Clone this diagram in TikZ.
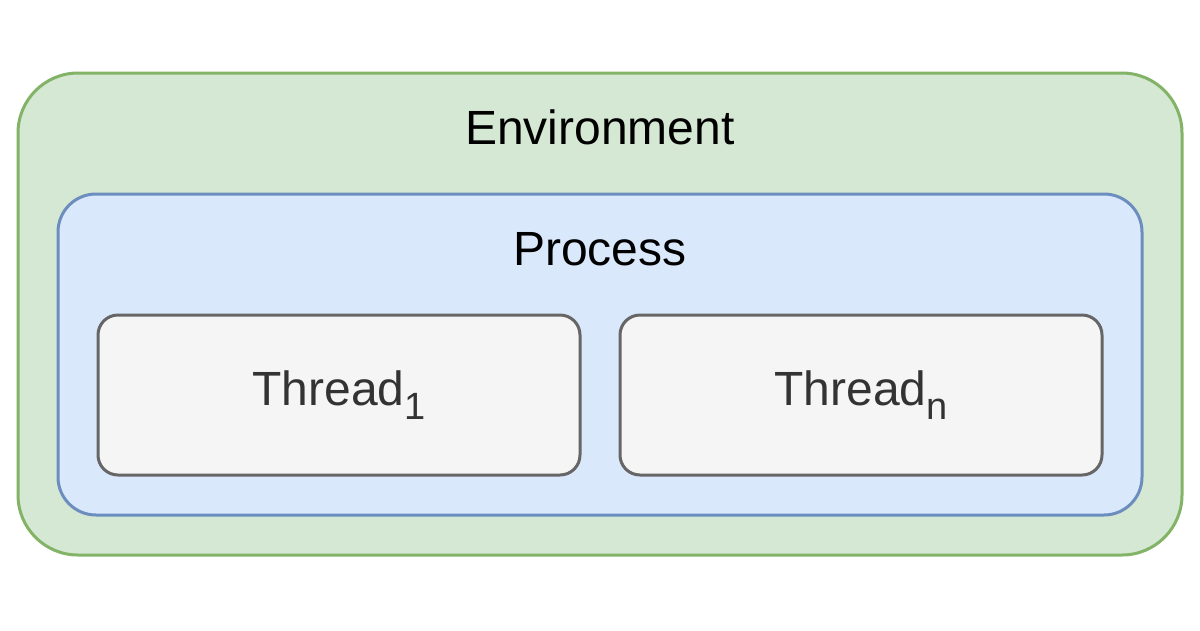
\documentclass[tikz,border=0pt]{standalone}
\usepackage{fontspec}
\setmainfont{Liberation Sans}
\usepackage{tikz}

\definecolor{envfill}{HTML}{D5E8D4}
\definecolor{envline}{HTML}{82B366}
\definecolor{procfill}{HTML}{DAE8FC}
\definecolor{procline}{HTML}{6C8EBF}
\definecolor{thfill}{HTML}{F5F5F5}
\definecolor{thline}{HTML}{666666}
\definecolor{thtext}{HTML}{333333}

\newcommand{\thsub}[1]{\raisebox{-0.3em}{\fontsize{38}{38}\selectfont #1}}

\begin{document}
\begin{tikzpicture}
 [x=1pt, y=-1pt,
  env box/.style={rounded corners=60pt, fill=envfill, draw=envline, line width=3pt, minimum width=1164pt, minimum height=482pt, inner sep=0pt},
  proc box/.style={rounded corners=38pt, fill=procfill, draw=procline, line width=3pt, minimum width=1084pt, minimum height=321pt, inner sep=0pt},
  thread box/.style={rounded corners=20pt, fill=thfill, draw=thline, line width=3pt, minimum width=482pt, minimum height=160pt, inner sep=0pt, text=thtext, font=\fontsize{48}{52}\selectfont},
  title node/.style={anchor=base, inner sep=0pt, font=\fontsize{48}{52}\selectfont}]

\useasboundingbox (0,0) rectangle (1200,630);

\node[env box] (env) at (600,314) {};
\node[proc box] (proc) at (600,354.5) {};

\node[title node] (envlabel) at (600,144) {Environment};
\node[title node] (proclabel) at (600,265) {Process};

\node[thread box] (t1) at (339,395) {};
  \node[thread box] (tn) [right of=t1, node distance=522pt] {};

\node[title node, text=thtext] (t1label) at (339,405) {Thread\thsub{1}};
\node[title node, text=thtext] (tnlabel) at (861,405) {Thread\thsub{n}};

\end{tikzpicture}
\end{document}
